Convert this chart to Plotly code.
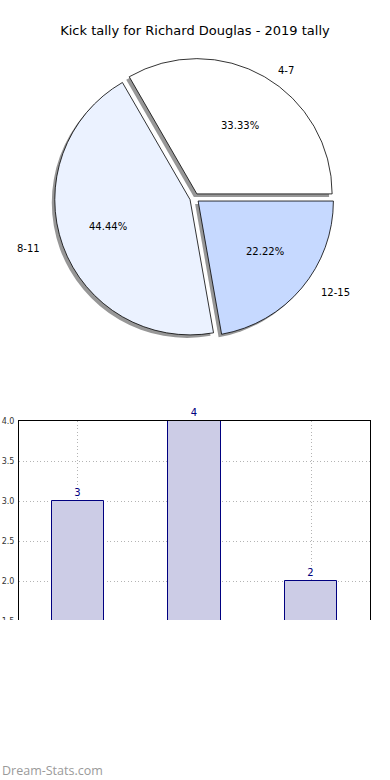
import math
import plotly.graph_objects as go

# ---- data ----
categories = ["4-7", "8-11", "12-15"]
counts = [3, 4, 2]
slice_colors = ["#ffffff", "#ebf2ff", "#c6d9ff"]
title_text = "Kick tally for Richard Douglas - 2019 tally"
y_ticks = [1.5, 2.0, 2.5, 3.0, 3.5, 4.0]
y_tick_labels = ["1.5", "2.0", "2.5", "3.0", "3.5", "4.0"]

W, H = 390, 780
FONT = "DejaVu Sans"

# pie geometry (pixels)
cx, cy, half = 194.5, 198, 140
def px_dom_x(a, b):
    return [a / W, b / W]
def px_dom_y(top, bottom):
    return [1 - bottom / H, 1 - top / H]

pull = [0.035, 0.035, 0.035]

fig = go.Figure()

# shadow pie
sd = 3
fig.add_trace(go.Pie(
    labels=categories, values=counts, sort=False, direction="counterclockwise",
    rotation=-30, pull=pull, textinfo="none", hoverinfo="skip",
    marker=dict(colors=["#8c8c8c"] * 3, line=dict(color="#8c8c8c", width=0)),
    domain=dict(x=px_dom_x(cx - half - sd, cx + half - sd), y=px_dom_y(cy - half + sd, cy + half + sd)),
    showlegend=False, opacity=0.9,
))
# main pie
fig.add_trace(go.Pie(
    labels=categories, values=counts, sort=False, direction="counterclockwise",
    rotation=-30, pull=pull, textinfo="none",
    marker=dict(colors=slice_colors, line=dict(color="black", width=0.8)),
    domain=dict(x=px_dom_x(cx - half, cx + half), y=px_dom_y(cy - half, cy + half)),
    showlegend=False,
))

# slice labels (percent inside at 0.6 r, category at 1.1 r, like the original)
total = sum(counts)
rx, ry, explode = 141, 128, 0.05
start = 0.0
for cat, c in zip(categories, counts):
    frac = c / total
    mid = math.radians(start + frac * 180)
    start += frac * 360
    cs, sn = math.cos(mid), math.sin(mid)
    px = cx + (0.6 + explode) * rx * cs
    py = cy - (0.6 + explode) * ry * sn
    fig.add_annotation(text=f"{frac * 100:.2f}%", x=px / W, y=1 - py / H, xref="paper",
                       yref="paper", showarrow=False, xanchor="center", yanchor="middle",
                       font=dict(family=FONT, size=10, color="black"))
    lx = cx + (1.1 + explode) * rx * cs
    ly = cy - (1.1 + explode) * ry * sn
    fig.add_annotation(text=cat, x=lx / W, y=1 - ly / H, xref="paper", yref="paper",
                       showarrow=False, xanchor="left" if cs > 0 else "right",
                       yanchor="middle", font=dict(family=FONT, size=10, color="black"))

# bar chart
fig.add_trace(go.Bar(
    x=[0, 1, 2], y=counts, width=0.45, text=[str(c) for c in counts],
    textposition="outside", cliponaxis=False,
    textfont=dict(family=FONT, size=10, color="#000080"),
    marker=dict(color="#ccccE6", line=dict(color="#000080", width=1)),
    showlegend=False, xaxis="x", yaxis="y",
))

bar_top, bar_bottom = 421, 661  # px
grid = dict(showgrid=True, gridcolor="#b4b4b4", griddash="1px,2.5px", gridwidth=1)
fig.update_layout(
    width=W, height=H, margin=dict(l=0, r=0, t=0, b=0, autoexpand=False),
    paper_bgcolor="white", plot_bgcolor="white",
    font=dict(family=FONT, color="black"),
    title=dict(text=title_text, x=0.5, xanchor="center", y=1 - 30 / H, yanchor="middle",
               font=dict(family=FONT, size=13, color="black")),
    xaxis=dict(domain=[19 / W, 370 / W], range=[-0.506, 2.506], tickvals=[0, 1, 2],
               ticktext=categories, showline=True, linecolor="black", mirror=True,
               zeroline=False, automargin=False, tickfont=dict(size=8, color="#333333"), **grid),
    yaxis=dict(domain=[1 - bar_bottom / H, 1 - bar_top / H], range=[1.0, 4.0],
               tickvals=y_ticks, ticktext=y_tick_labels, showline=True, linecolor="black",
               mirror=True, zeroline=False, ticks="", tickfont=dict(size=8, color="#333333"),
               automargin=False, ticklabelstandoff=2, **grid),
    bargap=0,
)

# white band clipping the lower part of the bar panel (as in the reference image)
fig.add_shape(type="rect", xref="paper", yref="paper", x0=0, x1=1, y0=0, y1=1 - 620 / H,
              fillcolor="white", line=dict(width=0), layer="above")

# watermark
fig.add_annotation(text="Dream-Stats.com", x=0, y=1 - 770 / H, xref="paper", yref="paper",
                   xanchor="left", yanchor="middle", showarrow=False,
                   font=dict(family="Open Sans", size=12.5, color="#9a9a9a"))

fig.write_html("out.html", config={"displayModeBar": False},
               post_script="document.body.style.margin='0px';document.body.style.overflow='hidden';")
